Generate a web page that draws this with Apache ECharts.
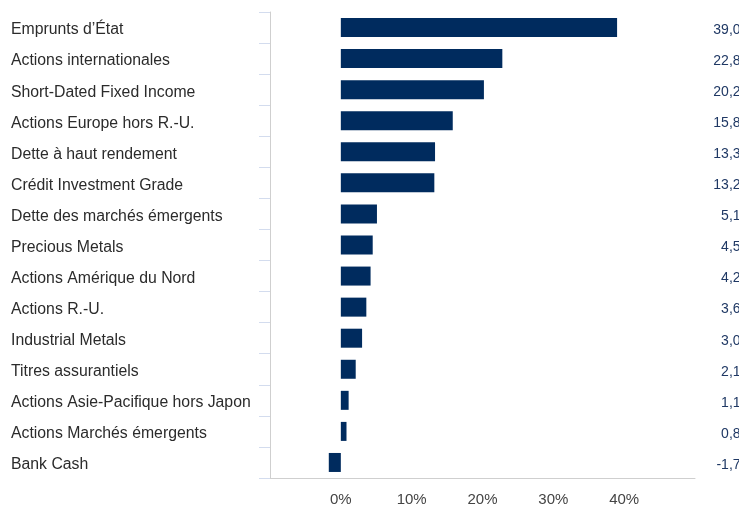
<!DOCTYPE html>
<html><head><meta charset="utf-8">
<script src="https://cdn.jsdelivr.net/npm/echarts@6/dist/echarts.min.js"></script>
<style>html,body{margin:0;padding:0;background:#fff}#c{width:739px;height:506px}</style>
</head><body><div id="c"></div>
<script>
const categories = ["Emprunts d’État","Actions internationales","Short-Dated Fixed Income","Actions Europe hors R.-U.","Dette à haut rendement","Crédit Investment Grade","Dette des marchés émergents","Precious Metals","Actions Amérique du Nord","Actions R.-U.","Industrial Metals","Titres assurantiels","Actions Asie-Pacifique hors Japon","Actions Marchés émergents","Bank Cash"];
const values = [39.0,22.8,20.2,15.8,13.3,13.2,5.1,4.5,4.2,3.6,3.0,2.1,1.1,0.8,-1.7];
const xTicks = [-10,0,10,20,30,40,50];
const valueLabels = values.map(v => v.toFixed(1).replace('.', ',') + '%');

const chart = echarts.init(document.getElementById('c'), null, {renderer:'canvas'});
const font = 'Liberation Sans, Arial, sans-serif';
chart.setOption({
  animation:false,
  grid:{left:270,right:44,top:12,bottom:28,containLabel:false,outerBoundsMode:'none'},
  xAxis:{type:'value',min:xTicks[0],max:xTicks[xTicks.length-1],interval:10,
    axisLine:{show:true,lineStyle:{color:'#cfcfcf',width:1}},
    axisTick:{show:false},splitLine:{show:false},
    axisLabel:{showMinLabel:false,showMaxLabel:false,formatter:v=>v+'%',color:'#444',fontSize:15,fontFamily:font,margin:14}},
  yAxis:[{type:'category',data:categories,inverse:true,
    axisLine:{show:true,onZero:false,lineStyle:{color:'#cfcfcf'}},
    axisTick:{show:true,length:11,lineStyle:{color:'#d3dcee'}},
    axisLabel:{align:'left',margin:259,formatter:v=>'{a|'+v+'}',
      rich:{a:{color:'#2b2b2b',fontSize:15.8,fontFamily:font,padding:[5,0,0,0]}}}},
   {type:'category',data:valueLabels,inverse:true,position:'right',
    axisLine:{show:false},axisTick:{show:false},
    axisLabel:{align:'right',margin:58,formatter:v=>'{a|'+v+'}',
      rich:{a:{color:'#1f3864',fontSize:14,fontFamily:font,padding:[5,0,0,0]}}}}],
  series:[{type:'bar',data:values,barWidth:19,itemStyle:{color:'#002b5e'}}]
});
</script></body></html>
